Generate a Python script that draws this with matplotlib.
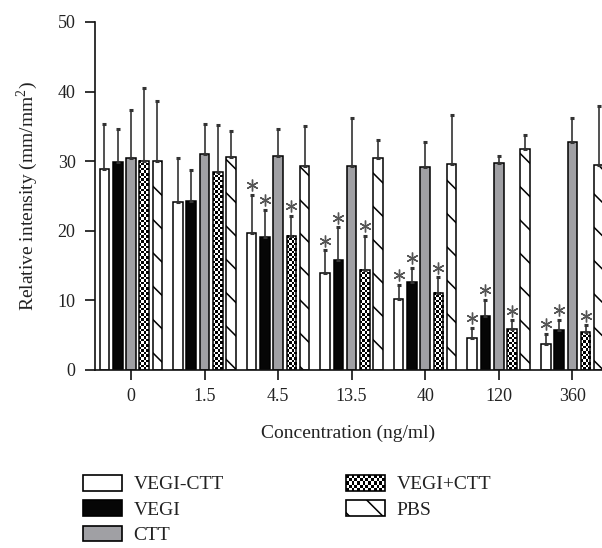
import numpy as np
import matplotlib
matplotlib.use("Agg")
import matplotlib.pyplot as plt
from matplotlib.patches import Rectangle, Patch
from matplotlib.legend_handler import HandlerBase
from matplotlib.image import BboxImage
from matplotlib.transforms import Bbox, TransformedBbox, offset_copy

plt.rcParams['font.family'] = ['Liberation Serif', 'DejaVu Serif']
plt.rcParams['mathtext.fontset'] = 'custom'
plt.rcParams['mathtext.rm'] = 'Liberation Serif'
plt.rcParams['hatch.linewidth'] = 1.1

# data
concentrations = ['0', '1.5', '4.5', '13.5', '40', '120', '360']
series = ['VEGI-CTT', 'VEGI', 'CTT', 'VEGI+CTT', 'PBS']

vegi_ctt = [28.9, 24.1, 19.7, 13.9, 10.2, 4.65, 3.7]
vegi = [29.9, 24.3, 19.1, 15.8, 12.6, 7.7, 5.8]
ctt = [30.4, 31.1, 30.8, 29.3, 29.2, 29.7, 32.7]
vegi_plus_ctt = [30.1, 28.4, 19.3, 14.4, 11.1, 5.85, 5.4]
pbs = [30.1, 30.6, 29.3, 30.4, 29.6, 31.7, 29.5]

# upper end of the error bars
vegi_ctt_err = [35.3, 30.5, 25.2, 17.2, 12.2, 6.1, 5.2]
vegi_err = [34.6, 28.8, 23.0, 20.5, 14.7, 10.1, 7.2]
ctt_err = [37.3, 35.4, 34.6, 36.2, 32.7, 30.8, 36.2]
vegi_plus_ctt_err = [40.5, 35.2, 22.1, 19.3, 13.3, 7.15, 6.4]
pbs_err = [38.7, 34.4, 35.1, 33.0, 36.6, 33.7, 37.9]

# significance marks (*)
sig_vegi_ctt = [0, 0, 1, 1, 1, 1, 1]
sig_vegi = [0, 0, 1, 1, 1, 1, 1]
sig_ctt = [0, 0, 0, 0, 0, 0, 0]
sig_vegi_plus_ctt = [0, 0, 1, 1, 1, 1, 1]
sig_pbs = [0, 0, 0, 0, 0, 0, 0]

means = [vegi_ctt, vegi, ctt, vegi_plus_ctt, pbs]
tops = [vegi_ctt_err, vegi_err, ctt_err, vegi_plus_ctt_err, pbs_err]
sigs = [sig_vegi_ctt, sig_vegi, sig_ctt, sig_vegi_plus_ctt, sig_pbs]

faces = ['white', '#060606', '#a0a0a4', 'none', 'white']
hatches = [None, None, None, None, '\\']

text_color = '#222222'
CELL = 2.6  # checker cell size in pixels


def checker(ny, nx):
    yy, xx = np.indices((ny, nx))
    c = ((yy + xx) % 2).astype(float)
    return np.dstack([c, c, c])


class CheckerHandler(HandlerBase):
    def create_artists(self, legend, orig_handle, xdescent, ydescent,
                       width, height, fontsize, trans):
        bb = TransformedBbox(Bbox.from_bounds(-xdescent, -ydescent, width, height), trans)
        img = BboxImage(bb, interpolation='nearest')
        img.set_data(checker(5, 14))
        rect = Rectangle((-xdescent, -ydescent), width, height, facecolor='none',
                         edgecolor='black', lw=1.2, transform=trans)
        return [img, rect]


fig = plt.figure(figsize=(6.02, 5.48), dpi=100)
ax = fig.add_axes([95 / 602, 178 / 548, 507 / 602, 348 / 548])

x = np.arange(len(concentrations))
step = 0.18
width = 0.13
ax.set_xlim(-0.489, 6.404)
ax.set_ylim(0, 50)

star_trans = offset_copy(ax.transData, fig=fig, y=7, units='points')
px_per_x = ax.bbox.width / (6.404 + 0.489)
px_per_y = ax.bbox.height / 50

for i, name in enumerate(series):
    xs = x + (i - 2) * step
    bars = ax.bar(xs, means[i], width, facecolor=faces[i], edgecolor='black',
                  lw=1.1, hatch=hatches[i], zorder=2)
    if name == 'VEGI+CTT':
        for b in bars:
            nx = max(1, int(round(b.get_width() * px_per_x / CELL)))
            ny = max(1, int(round(b.get_height() * px_per_y / CELL)))
            ax.imshow(checker(ny, nx), extent=[b.get_x(), b.get_x() + b.get_width(), 0, b.get_height()],
                      aspect='auto', interpolation='nearest', zorder=1.5)
    up = np.array(tops[i]) - np.array(means[i])
    ax.errorbar(xs, means[i], yerr=[np.zeros_like(up), up], fmt='none',
                ecolor='#333333', elinewidth=1.2, capsize=1.7, capthick=2.2, zorder=3)
    for xv, tv, s in zip(xs, tops[i], sigs[i]):
        if s:
            ax.plot(xv, tv, marker=(6, 2, 0), markersize=8.5, mew=1.0,
                    color='#555555', transform=star_trans, clip_on=False)

ax.set_xlim(-0.489, 6.404)
ax.set_ylim(0, 50)
ax.set_xticks(x)
ax.set_xticklabels(concentrations)
ax.set_yticks(range(0, 51, 10))

for s in ['top', 'right']:
    ax.spines[s].set_visible(False)
for s in ['left', 'bottom']:
    ax.spines[s].set_linewidth(1.2)
    ax.spines[s].set_color('#111111')

ax.tick_params(direction='out', length=7, width=1.2, color='#111111',
               labelsize=13, labelcolor=text_color)
ax.tick_params(axis='y', pad=7)
ax.tick_params(axis='x', pad=6)

ax.set_xlabel('Concentration (ng/ml)', fontsize=14, color=text_color, labelpad=14)
ax.set_ylabel(r'Relative intensity (mm/mm$^{\mathrm{2}}$)', fontsize=14, color=text_color, labelpad=13)

handles = [Patch(facecolor='white', edgecolor='black', lw=1.2),
           Patch(facecolor='#060606', edgecolor='black', lw=1.2),
           Patch(facecolor='#a0a0a4', edgecolor='black', lw=1.2),
           Patch(facecolor='white', edgecolor='black', lw=1.2),
           Patch(facecolor='white', edgecolor='black', lw=1.2, hatch='\\')]
fig.legend(handles, series, loc='upper left', ncol=2,
           bbox_to_anchor=(83 / 602, 1 - 475 / 548),
           handler_map={handles[3]: CheckerHandler()},
           frameon=False, borderpad=0, borderaxespad=0, fontsize=14,
           handlelength=2.0, handleheight=0.85, handletextpad=0.6,
           labelspacing=0.36, columnspacing=6.3, labelcolor=text_color)

fig.savefig('out.png', dpi=100)
